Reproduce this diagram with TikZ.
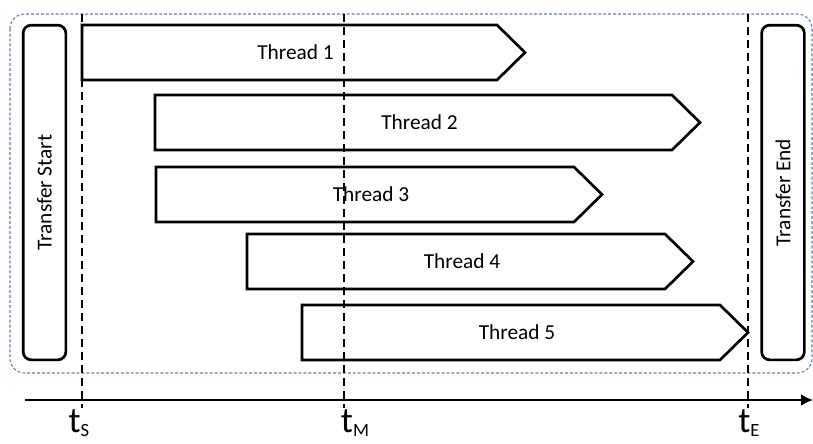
\documentclass[tikz,border=0pt]{standalone}
\usepackage{fontspec}
\setmainfont{Carlito}
\usepackage{tikz}
\usetikzlibrary{positioning}
\usetikzlibrary{arrows.meta}
\definecolor{framecol}{RGB}{92,128,178}
\tikzset{>=latex}
\tikzset{
  phasebox/.style={draw, line width=2pt, rounded corners=6pt, rotate=90,
    minimum width=251pt, minimum height=32pt, inner sep=0pt,
    font=\fontsize{16}{18}\selectfont},
  timeline/.style={line width=1.9pt, dash pattern=on 6pt off 3.75pt},
  timelabel/.style={anchor=north, inner sep=0pt}
}
\newcommand{\tlabel}[1]{{\fontsize{27}{27}\selectfont t}\raisebox{-3pt}{\fontsize{14}{14}\selectfont #1}}

\begin{document}
\begin{tikzpicture}[x=0.75pt,y=-0.75pt]
\useasboundingbox (0,0) rectangle (813,443);

% ---------------- Frame ----------------
\draw[framecol, line width=0.8pt, dash pattern=on 2.2pt off 1.5pt, rounded corners=11pt]
  (10,14) rectangle (812,373);

% ---------------- Start / end ----------------
\node[phasebox] (start) at (44.5,192.5) {Transfer Start};
\node[phasebox] (end) at (783,192.5) {Transfer End};

% ---------- Thread function ----------
% name, left x, body end x, top y, label
\def\thread#1#2#3#4#5{
  \draw[line width=2pt, line join=miter]
    (#2,#4) -- (#3,#4) -- (#3+28,#4+27.5) --
    (#3,#4+55) -- (#2,#4+55) -- cycle;
  \node[font=\fontsize{16}{18}\selectfont] (#1) at ({(#2+#3)/2+6},#4+27.5) {#5};
}

\thread{thr1}{82}{497}{25}{Thread 1}
\thread{thr2}{155}{672}{95}{Thread 2}
\thread{thr3}{156}{574}{167}{Thread 3}
\thread{thr4}{247}{665}{234}{Thread 4}
\thread{thr5}{302}{720}{305}{Thread 5}

% ---------------- Time marks ----------------
\coordinate (sTop) at (82,14);   \coordinate (sBot) at (82,408);
\coordinate (mTop) at (344,14);  \coordinate (mBot) at (344,408);
\coordinate (eTop) at (748,14);  \coordinate (eBot) at (748,408);
\draw[timeline] (sTop) -- (sBot);
\draw[timeline] (mTop) -- (mBot);
\draw[timeline] (eTop) -- (eBot);

% ---------------- Axis ----------------
\coordinate (axL) at (25,400);
\coordinate (axR) at (813,400);
\draw[line width=1.9pt, -{Latex[length=9pt,width=9pt]}] (axL) -- (axR);

% ---------------- Labels ----------------
\node[timelabel] (lblS) at (79,409) {\tlabel{S}};
\node[timelabel] (lblM) at (355,409) {\tlabel{M}};
\node[timelabel] (lblE) at (749,409) {\tlabel{E}};

\end{tikzpicture}
\end{document}
